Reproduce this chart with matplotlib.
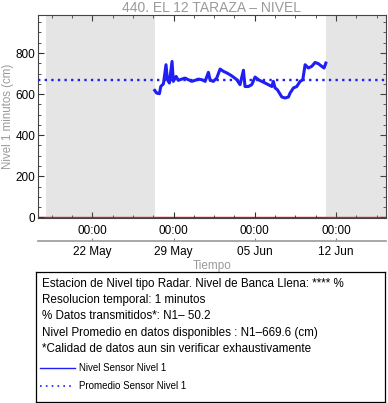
import matplotlib
matplotlib.use('Agg')
import matplotlib.pyplot as plt
import matplotlib.dates as mdates
import pandas as pd
from matplotlib.ticker import AutoMinorLocator, MultipleLocator
from matplotlib.lines import Line2D

plt.rcParams['font.family'] = ['Liberation Sans', 'DejaVu Sans']

# Level readings (cm)
times = ['2024-05-27 09:00', '2024-05-27 13:00', '2024-05-27 18:40', '2024-05-27 21:30',
         '2024-05-28 03:00', '2024-05-28 08:20', '2024-05-28 11:20', '2024-05-28 15:20',
         '2024-05-28 20:50', '2024-05-28 23:30', '2024-05-29 05:20', '2024-05-29 09:50',
         '2024-05-29 17:00', '2024-05-29 23:45', '2024-05-30 06:40', '2024-05-30 13:40',
         '2024-05-30 20:20', '2024-05-31 03:20', '2024-05-31 10:20', '2024-05-31 17:15',
         '2024-06-01 00:00', '2024-06-01 03:40', '2024-06-01 10:20', '2024-06-01 17:15',
         '2024-06-02 00:15', '2024-06-02 07:00', '2024-06-02 14:10', '2024-06-02 20:50',
         '2024-06-03 03:50', '2024-06-03 10:50', '2024-06-03 17:30', '2024-06-04 00:30',
         '2024-06-04 03:50', '2024-06-04 10:50', '2024-06-04 17:45', '2024-06-05 00:40',
         '2024-06-05 07:30', '2024-06-05 14:20', '2024-06-05 21:20', '2024-06-06 04:00',
         '2024-06-06 11:20', '2024-06-06 14:20', '2024-06-06 18:00', '2024-06-06 22:50',
         '2024-06-07 08:00', '2024-06-07 14:40', '2024-06-07 21:40', '2024-06-08 01:00',
         '2024-06-08 08:00', '2024-06-08 14:50', '2024-06-08 21:50', '2024-06-09 03:20',
         '2024-06-09 08:10', '2024-06-09 14:50', '2024-06-09 21:50', '2024-06-10 04:50',
         '2024-06-10 11:30', '2024-06-10 18:40', '2024-06-10 23:20', '2024-06-11 03:00']
level = [618, 605, 602, 637, 650, 743, 670, 654, 759, 662,
         686, 667, 673, 678, 670, 662, 667, 673, 670, 662,
         706, 667, 662, 678, 722, 711, 703, 694, 683, 670,
         646, 716, 637, 637, 646, 683, 670, 662, 654, 646,
         637, 662, 630, 621, 586, 581, 586, 605, 630, 637,
         662, 670, 743, 727, 735, 754, 748, 735, 727, 751]
mean_level = 669.6

nodata_spans = [('2024-05-18 00:00', '2024-05-27 09:00'),
                ('2024-06-11 03:00', '2024-06-16 08:00')]
x_start, x_end = '2024-05-17 07:30', '2024-06-16 07:30'

info_lines = ['Estacion de Nivel tipo Radar. Nivel de Banca Llena: **** %',
              'Resolucion temporal: 1 minutos',
              '% Datos transmitidos*: N1\u2013 50.2',
              'Nivel Promedio en datos disponibles : N1\u2013669.6 (cm)',
              '*Calidad de datos aun sin verificar exhaustivamente']

t = pd.to_datetime(times)

fig = plt.figure(figsize=(3.88, 4.03), dpi=100)
ax = fig.add_axes([38/388, 1 - 218/403, 348/388, 203/403])

# red zero line underneath the grey no-data bands
ax.axhline(0, color='red', lw=1.0, zorder=1)
for a, b in nodata_spans:
    ax.axvspan(pd.Timestamp(a), pd.Timestamp(b), color='gray', alpha=0.2, lw=0, zorder=2)

data_line, = ax.plot(t, level, color='#1f1ff5', lw=2.2, zorder=4)
ax.axhline(mean_level, color='#1f1ff5', lw=1.7, ls=(0, (1, 1.8)), zorder=3)

ax.set_xlim(pd.Timestamp(x_start), pd.Timestamp(x_end))
ax.set_ylim(-3, 985)
ax.yaxis.set_major_locator(MultipleLocator(200))
ax.yaxis.set_minor_locator(MultipleLocator(50))
ax.xaxis.set_major_locator(mdates.WeekdayLocator(byweekday=mdates.WE))
ax.xaxis.set_minor_locator(AutoMinorLocator(4))
ax.xaxis.set_major_formatter(mdates.DateFormatter('%H:%M'))

ax.tick_params(which='both', direction='in', top=True, right=True, colors='#333333',
               labelcolor='black', labelsize=8.5)
ax.tick_params(which='major', length=4)
ax.tick_params(which='minor', length=2.2)
ax.tick_params(axis='y', pad=2)
ax.tick_params(axis='x', pad=5)
for s in ax.spines.values():
    s.set_color('#444444')
    s.set_linewidth(0.8)

ax.set_title('440. EL 12 TARAZA \u2013 NIVEL', color='#9a9a9a', fontsize=10, pad=2)
ax.set_ylabel('Nivel 1 minutos (cm)', color='#9a9a9a', fontsize=8.3, labelpad=1)

secax = ax.secondary_xaxis(-0.112)
secax.xaxis.set_major_locator(mdates.WeekdayLocator(byweekday=mdates.WE))
secax.xaxis.set_major_formatter(mdates.DateFormatter('%d %b'))
secax.tick_params(direction='in', length=2.5, colors='#888888', labelcolor='black',
                  labelsize=8.5, pad=4)
secax.spines['bottom'].set_color('#999999')
secax.spines['bottom'].set_linewidth(1.2)
secax.set_xlabel('Tiempo', color='#9a9a9a', fontsize=8.5, labelpad=1)

# info box under the chart
box = fig.add_axes([36/388, 1.5/403, 349/388, 129.4/403])
box.set_xticks([])
box.set_yticks([])
for s in box.spines.values():
    s.set_color('black')
    s.set_linewidth(0.9)
for i, line in enumerate(info_lines):
    box.text(0.017, 0.91 - i*0.126, line, fontsize=8.4, va='center', ha='left',
             transform=box.transAxes)

handles = [Line2D([], [], color='#1f1ff5', lw=1.0, label='Nivel Sensor Nivel 1'),
           Line2D([], [], color='#1f1ff5', lw=1.2, ls=(0, (1, 2.5)), label='Promedio Sensor Nivel 1')]
box.legend(handles=handles, loc='upper left', bbox_to_anchor=(0.012, 0.295), frameon=False,
           fontsize=7, handlelength=3.6, handletextpad=0.4, borderpad=0, borderaxespad=0,
           labelspacing=0.8)

fig.savefig('out.png', dpi=100)
